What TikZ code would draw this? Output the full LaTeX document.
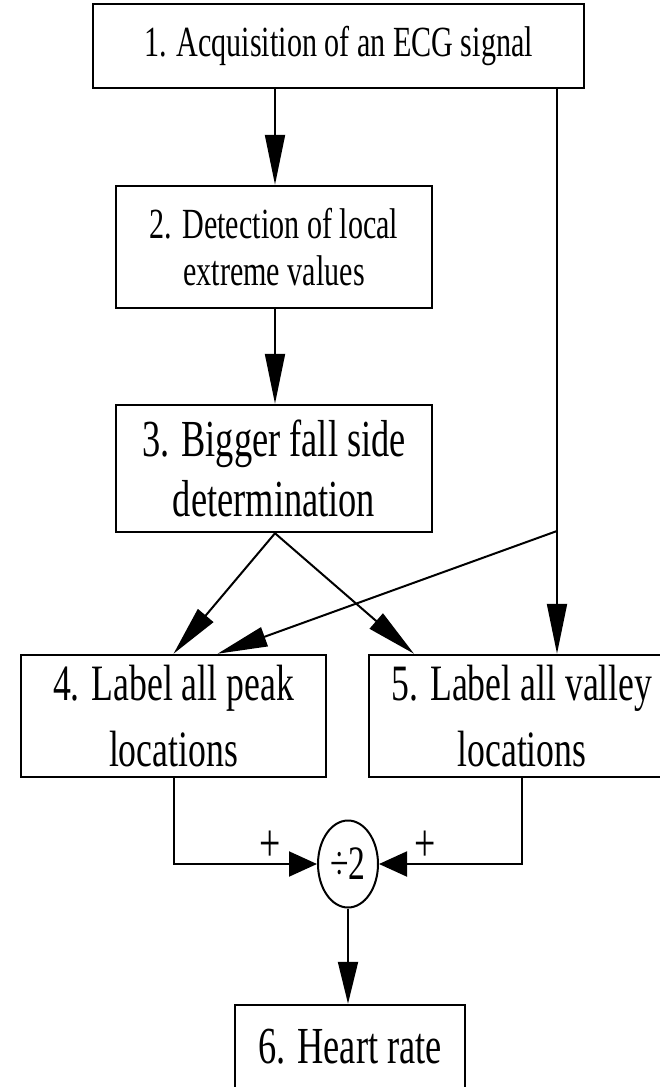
\documentclass[tikz,border=0pt]{standalone}
\usepackage{fontspec}
\setmainfont{Liberation Serif}[FakeStretch=0.7]
\usetikzlibrary{arrows.meta, shapes.geometric}

\begin{document}
\begin{tikzpicture}[x=1pt, y=-1pt,
      box/.style = {draw, line width=2.5pt, align=center, inner sep=0pt},
      arr/.style = {line width=2pt, -{Triangle[length=50pt,width=20pt]}},
   sumarr/.style = {line width=2pt, -{Triangle[length=28pt,width=25pt]}},
     sign/.style = {font=\fontsize{54}{54}\selectfont, inner sep=0pt}]
  \useasboundingbox (0,0) rectangle (659,1087);
  \node[box, minimum width=491pt, minimum height=84pt,
        font=\fontsize{43}{50}\selectfont] (b1) at (338.5,46)
        {1. Acquisition of an ECG signal};
  \node[box, minimum width=316pt, minimum height=122pt,
        font=\fontsize{43}{47}\selectfont] (b2) at (274,247)
        {2. Detection of local\\extreme values};
  \node[box, minimum width=316pt, minimum height=127pt,
        font=\fontsize{52}{60}\selectfont] (b3) at (274,468.5)
        {3. Bigger fall side\\determination};
  \node[box, minimum width=305pt, minimum height=122pt,
        font=\fontsize{51}{66}\selectfont] (b4) at (173.5,716)
        {4. Label all peak\\locations};
  \node[box, minimum width=306pt, minimum height=122pt,
        font=\fontsize{51}{66}\selectfont] (b5) at (522,716)
        {5. Label all valley\\locations};
  \node[draw, ellipse, line width=2pt, minimum width=60pt,
        minimum height=87pt, inner sep=0pt,
        font=\fontsize{48}{48}\selectfont] (sum) at (348,864) {÷2};
  \node[box, minimum width=230pt, minimum height=84pt,
        font=\fontsize{52}{52}\selectfont] (b6) at (350,1047)
        {6. Heart rate};
  % junctions
  \coordinate (c) at (275,0);
  \coordinate (j) at (557,531);
  \draw[arr] (b1.south -| c) -- (b2.north -| c);
  \draw[arr] (b2.south -| c) -- (b3.north -| c);
  \draw[arr] (b1.south -| j) -- (b5.north -| j);
  \draw[arr] (j) -- ([xshift=44pt]b4.north);
  \draw[arr] (b3.south -| c) -- (b4.north);
  \draw[arr] (b3.south -| c) -- ([xshift=-108pt]b5.north);
  \draw[sumarr] (b4.south) |- (sum.west);
  \draw[sumarr] (b5.south) |- (sum.east);
  \draw[line width=2pt, -{Triangle[length=42pt,width=20pt]}]
    (sum.south) -- (b6.north -| sum.south);
  \node[sign] (p4) at (270,846) {+};
  \node[sign] (p5) at (425,846) {+};
\end{tikzpicture}
\end{document}
